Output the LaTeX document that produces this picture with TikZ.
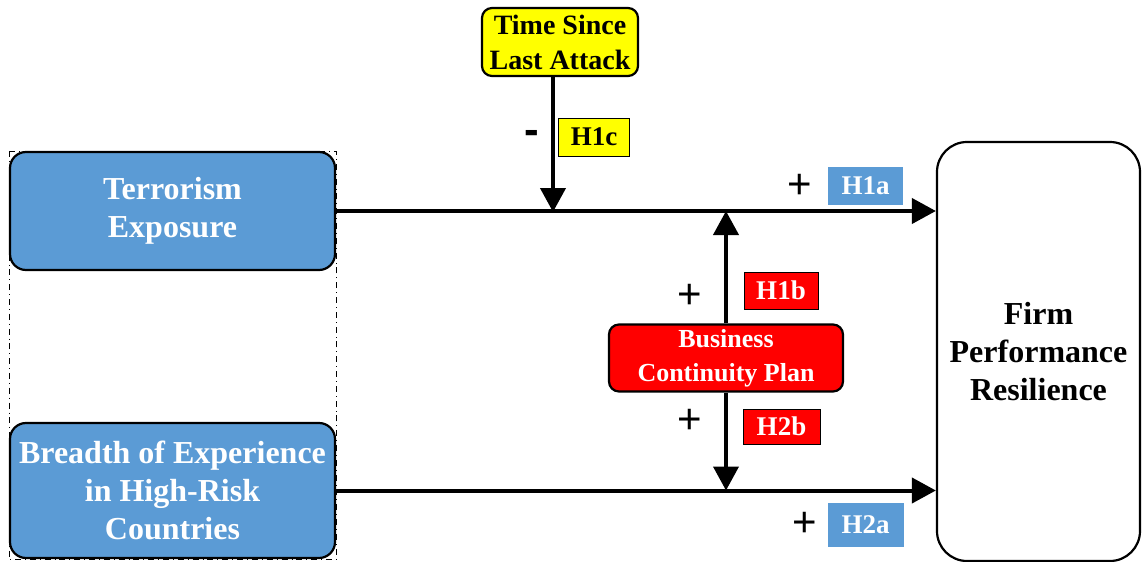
\documentclass[tikz,border=0pt]{standalone}
\usepackage{fontspec}
\setmainfont{Liberation Serif}
\newfontfamily\signfont{Liberation Sans}
\usetikzlibrary{positioning,arrows.meta}
\definecolor{hypblue}{RGB}{91,155,213}
\definecolor{hypred}{RGB}{255,0,0}
\definecolor{hypyellow}{RGB}{255,255,0}
\begin{document}
\begin{tikzpicture}[x=0.5pt,y=-0.5pt]
    \tikzstyle{var} = [draw, line width=1.1pt, align=center, inner sep=0pt]
    \tikzstyle{indep} = [var, fill=hypblue, text=white, rounded corners=8pt, minimum width=162.5pt, font=\bfseries\fontsize{16}{19}\selectfont]
    \tikzstyle{outcome} = [var, fill=white, rounded corners=15pt, font=\bfseries\fontsize{16}{19}\selectfont]
    \tikzstyle{moder} = [var, rounded corners=5pt]
    \tikzstyle{hyp} = [inner sep=0pt, font=\bfseries\fontsize{13.5}{15}\selectfont]
    \tikzstyle{sign} = [inner sep=0pt, font=\signfont\fontsize{21}{21}\selectfont]
    \tikzstyle{conn} = [line width=2pt, -{Triangle[length=12pt,width=12.5pt]}]
        \useasboundingbox (0,0) rectangle (1142,562);
        % variables
        \node[indep, minimum height=59pt] (te) at (172.5,211) {Terrorism\\Exposure};
        \node[indep, minimum height=67.5pt] (be) at (172.5,490.5) {Breadth of Experience\\in High-Risk\\Countries};
        \node[outcome, minimum width=101.5pt, minimum height=209.5pt] (fpr) at (1038.5,351.5) {Firm\\Performance\\Resilience};
        \draw[dash dot, thin] (te.north west) rectangle (be.south east);
        % moderators
        \node[moder, fill=hypyellow, minimum width=78pt, minimum height=34pt, font=\bfseries\fontsize{14}{17.5}\selectfont] (tsla) at (560,42) {Time Since\\Last Attack};
        \node[moder, fill=hypred, text=white, minimum width=117pt, minimum height=33.5pt, font=\bfseries\fontsize{13}{17}\selectfont] (bcp) at (726,358) {Business\\Continuity Plan};
        % main effects
        \draw[conn] (te.east) -- (te.east -| fpr.west);
        \draw[conn] (be.east) -- (be.east -| fpr.west);
        % moderating effects
        \coordinate (m1) at (553,212);
        \draw[conn] (tsla.south -| m1) -- (m1);
        \draw[conn] (bcp.north) -- (bcp.north |- te.east);
        \draw[conn] (bcp.south) -- (bcp.south |- be.east);
        %%% labels
        % H1
        \node[hyp, fill=hypblue, text=white, minimum width=37.5pt, minimum height=19pt] (h1a) at (865.5,186) {H1a};
        \node[sign] (s1a) at (800,186) {+};
        \node[hyp, draw, thin, fill=hypred, text=white, minimum width=37pt, minimum height=18.5pt] (h1b) at (781,290.5) {H1b};
        \node[sign] (s1b) at (690,296) {+};
        \node[hyp, draw, thin, fill=hypyellow, minimum width=35.5pt, minimum height=19pt] (h1c) at (594,137) {H1c};
        \node[sign, font=\signfont\bfseries\fontsize{22}{22}\selectfont] (s1c) at (532,137) {-};
        % H2
        \node[hyp, fill=hypblue, text=white, minimum width=38pt, minimum height=22pt] (h2a) at (865.5,524.5) {H2a};
        \node[sign] (s2a) at (805,524) {+};
        \node[hyp, draw, thin, fill=hypred, text=white, minimum width=38.5pt, minimum height=17.5pt] (h2b) at (781.5,426.5) {H2b};
        \node[sign] (s2b) at (690,421) {+};
\end{tikzpicture}
\end{document}
